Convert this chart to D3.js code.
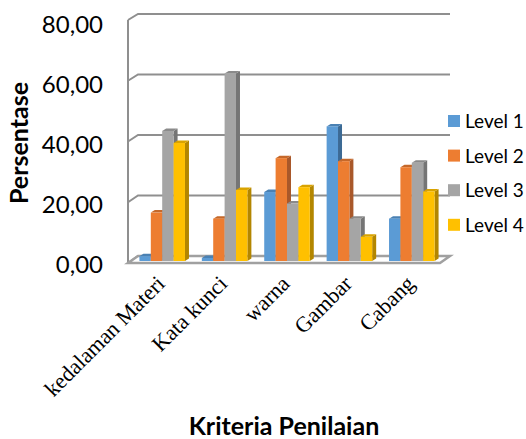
<!DOCTYPE html>
<html>
<head>
<meta charset="utf-8">
<script src="https://cdn.jsdelivr.net/npm/d3@7"></script>
<style>
html, body { margin: 0; padding: 0; background: #fff; }
svg { display: block; }
</style>
</head>
<body>
<div id="chart"></div>
<script>
const categories = ["kedalaman Materi", "Kata kunci", "warna", "Gambar", "Cabang"];
const seriesNames = ["Level 1", "Level 2", "Level 3", "Level 4"];
const level1 = [1.6, 1, 22.8, 44.5, 14];
const level2 = [16, 14, 34, 33, 31];
const level3 = [43, 62, 19, 14, 32.5];
const level4 = [39, 23.5, 24.4, 8, 23];
const yTicks = [0, 20, 40, 60, 80];

const colors = ["#5b9bd5", "#ed7d31", "#a5a5a5", "#ffc000"];
const sideColors = ["#3c6a94", "#a9582a", "#757575", "#b38600"];
const topColors = ["#4a81b3", "#c5682a", "#8a8a8a", "#d9a300"];
const allSeries = [level1, level2, level3, level4];

const svg = d3.select("#chart").append("svg").attr("width", 526).attr("height", 439);

const yFront = d3.scaleLinear().domain([0, 80]).range([263, 20]);
const yBack = d3.scaleLinear().domain([0, 80]).range([256, 14]);
const yBar = d3.scaleLinear().domain([0, 80]).range([261, 19]);
const yLabel = d3.scaleLinear().domain([0, 80]).range([265, 25]);
const x0 = d3.scaleBand().domain(categories).range([131, 443]).paddingInner(0.27).paddingOuter(0.135);
const x1 = d3.scaleBand().domain(seriesNames).range([0, x0.bandwidth()]);

// back wall grid lines, with the short slanted bit on the side wall
svg.selectAll("path.grid").data(yTicks).enter().append("path")
    .attr("class", "grid")
    .attr("fill", "none")
    .attr("stroke", "#8f8f8f")
    .attr("stroke-width", 2)
    .attr("d", d => `M128,${yFront(d)}L138,${yBack(d)}L450,${yBack(d)}`);

// left edge and floor
svg.append("line")
    .attr("x1", 128).attr("x2", 128)
    .attr("y1", yFront(80)).attr("y2", yFront(0))
    .attr("stroke", "#8f8f8f").attr("stroke-width", 2);
svg.append("path")
    .attr("d", `M128,${yFront(0)}L138,${yBack(0)}L450,${yBack(0)}L440,${yFront(0)}Z`)
    .attr("fill", "#fff")
    .attr("stroke", "#a0a0a0")
    .attr("stroke-width", 2.5);

// bars, drawn left to right so the depth faces overlap properly
const dx = 4, dy = 2.5;
categories.forEach((cat, i) => {
    seriesNames.forEach((name, s) => {
        const v = allSeries[s][i];
        const bx = x0(cat) + x1(name);
        const w = x1.bandwidth();
        const top = yBar(v), base = yBar(0);
        const g = svg.append("g");
        g.append("path")
            .attr("d", `M${bx + w},${top}L${bx + w + dx},${top - dy}L${bx + w + dx},${base - dy}L${bx + w},${base}Z`)
            .attr("fill", sideColors[s]);
        g.append("path")
            .attr("d", `M${bx},${top}L${bx + dx},${top - dy}L${bx + w + dx},${top - dy}L${bx + w},${top}Z`)
            .attr("fill", topColors[s]);
        g.append("rect")
            .attr("x", bx).attr("y", top)
            .attr("width", w).attr("height", base - top)
            .attr("fill", colors[s]);
    });
});

// y axis labels
const yAxis = d3.axisLeft(yLabel).tickValues(yTicks).tickSize(0).tickPadding(25)
    .tickFormat(d => d3.format(".2f")(d).replace(".", ","));
const yG = svg.append("g").attr("transform", "translate(128,0)").call(yAxis);
yG.select(".domain").remove();
yG.selectAll("text")
    .attr("font-family", "Lato, sans-serif")
    .attr("font-size", 24)
    .attr("fill", "#000");

// category labels, rotated
svg.selectAll("text.cat").data(categories).enter().append("text")
    .attr("class", "cat")
    .attr("text-anchor", "end")
    .attr("font-family", "'Liberation Serif', serif")
    .attr("font-size", 22)
    .attr("fill", "#000")
    .attr("transform", d => `translate(${x0(d) + x0.bandwidth() / 2 + 4},285) rotate(-45)`)
    .text(d => d);

// legend
const legend = svg.selectAll("g.legend").data(seriesNames).enter().append("g")
    .attr("class", "legend")
    .attr("transform", (d, i) => `translate(448,${115 + i * 34.6})`);
legend.append("rect")
    .attr("width", 12).attr("height", 12)
    .attr("fill", (d, i) => colors[i]);
legend.append("text")
    .attr("x", 17).attr("y", 13)
    .attr("font-family", "Lato, sans-serif")
    .attr("font-size", 19)
    .attr("fill", "#000")
    .text(d => d);

// axis titles
svg.append("text")
    .attr("x", 284).attr("y", 435)
    .attr("text-anchor", "middle")
    .attr("font-family", "Lato, sans-serif")
    .attr("font-weight", "bold")
    .attr("font-size", 25)
    .text("Kriteria Penilaian");
svg.append("text")
    .attr("transform", "translate(28,143) rotate(-90)")
    .attr("text-anchor", "middle")
    .attr("font-family", "Lato, sans-serif")
    .attr("font-weight", "bold")
    .attr("font-size", 25)
    .text("Persentase");
</script>
</body>
</html>
